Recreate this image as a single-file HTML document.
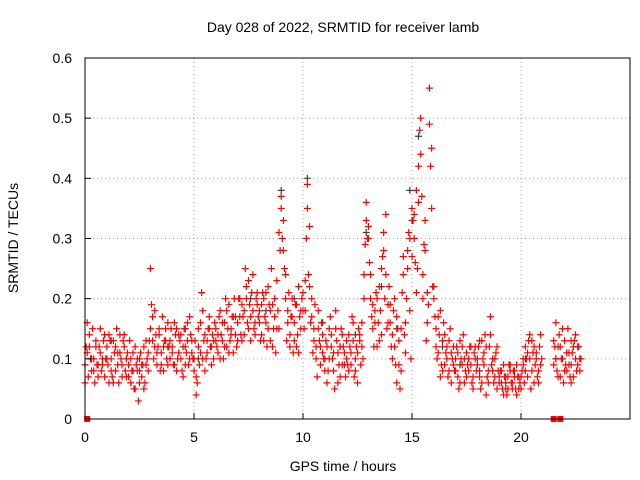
<!DOCTYPE html>
<html><head><meta charset="utf-8"><style>
body{margin:0;background:#fff}
svg{display:block;font-family:"Liberation Sans",sans-serif}
</style></head><body>
<svg id="chart" width="640" height="480">
<text x="343" y="32" font-size="14" text-anchor="middle">Day 028 of 2022, SRMTID for receiver lamb</text>
<text x="343" y="471" font-size="14" text-anchor="middle">GPS time / hours</text>
<text x="0" y="0" font-size="14" text-anchor="middle" transform="translate(18,238) rotate(-90)">SRMTID / TECUs</text>
<g id="grid"></g>
<g id="marks"></g>
<rect x="85" y="58" width="545" height="361" fill="none" stroke="#000"/>
<g id="ticks"></g>
</svg>
<script>
const xTicks=[0,5,10,15,20];
const yTicks=[0,0.1,0.2,0.3,0.4,0.5,0.6];
const yTickLabels=["0","0.1","0.2","0.3","0.4","0.5","0.6"];
const hours1=[0,0.1,0.2,0.3,0.4,0.5,0.6,0.7,0.8,0.9,1,1.1,1.2,1.3,1.4,1.5,1.6,1.7,1.8,1.9,2,2.1,2.2,2.3,2.4,2.5,2.6,2.7,2.8,2.9,3,3.1,3.2,3.3,3.4,3.5,3.6,3.7,3.8,3.9,4,4.1,4.2,4.3,4.4,4.5,4.6,4.7,4.8,4.9,5,5.1,5.2,5.3,5.4,5.5,5.6,5.7,5.8,5.9,6,6.1,6.2,6.3,6.4,6.5,6.6,6.7,6.8,6.9,7,7.1,7.2,7.3,7.4,7.5,7.6,7.7,7.8,7.9,8,8.1,8.2,8.3,8.4,8.5,8.6,8.7,8.8,8.9,9,9.1,9.2,9.3,9.4,9.5,9.6,9.7,9.8,9.9,10,10.1,10.2,10.3,10.4,10.5,10.6,10.7,10.8,10.9,11,11.1,11.2,11.3,11.4,11.5,11.6,11.7,11.8,11.9,12,12.1,12.2,12.3,12.4,12.5,12.6,12.7,12.8,12.9,13,13.1,13.2,13.3,13.4,13.5,13.6,13.7,13.8,13.9,14,14.1,14.2,14.3,14.4,14.5,14.6,14.7,14.8,14.9,15,15.1,15.2,15.3,15.4,15.5,15.6,15.7,15.8,15.9,16,16.1,16.2,16.3,16.4,16.5,16.6,16.7,16.8,16.9,17,17.1,17.2,17.3,17.4,17.5,17.6,17.7,17.8,17.9,18,18.1,18.2,18.3,18.4,18.5,18.6,18.7,18.8,18.9,19,19.1,19.2,19.3,19.4,19.5,19.6,19.7,19.8,19.9,20,20.1,20.2,20.3,20.4,20.5,20.6,20.7,20.8,20.9,21.5,21.6,21.7,21.8,21.9,22,22.1,22.2,22.3,22.4,22.5,22.6,22.7];
const srm1=[0.09,0.16,0.12,0.08,0.1,0.13,0.07,0.11,0.09,0.14,
0.12,0.06,0.1,0.13,0.08,0.11,0.14,0.09,0.12,0.07,
0.09,0.06,0.11,0.05,0.08,0.1,0.07,0.12,0.09,0.11,
0.25,0.17,0.12,0.09,0.15,0.11,0.08,0.13,0.16,0.1,
0.12,0.09,0.15,0.11,0.14,0.07,0.12,0.16,0.1,0.13,
0.08,0.04,0.12,0.16,0.1,0.14,0.11,0.17,0.09,0.13,
0.15,0.11,0.18,0.13,0.16,0.12,0.19,0.14,0.11,0.17,
0.16,0.2,0.13,0.18,0.22,0.15,0.17,0.24,0.14,0.19,
0.18,0.14,0.2,0.16,0.22,0.13,0.19,0.17,0.23,0.15,
0.37,0.33,0.24,0.18,0.14,0.2,0.16,0.12,0.22,0.15,
0.21,0.18,0.39,0.32,0.2,0.15,0.12,0.18,0.09,0.14,
0.1,0.06,0.15,0.12,0.08,0.18,0.11,0.07,0.14,0.09,
0.13,0.08,0.11,0.16,0.1,0.06,0.14,0.12,0.2,0.36,
0.32,0.2,0.15,0.18,0.12,0.22,0.14,0.28,0.34,0.19,
0.16,0.1,0.2,0.06,0.13,0.08,0.24,0.11,0.28,0.18,
0.35,0.3,0.38,0.42,0.5,0.2,0.28,0.16,0.55,0.45,
0.22,0.15,0.11,0.18,0.08,0.14,0.1,0.13,0.06,0.12,
0.1,0.07,0.13,0.09,0.06,0.11,0.08,0.12,0.05,0.1,
0.09,0.13,0.06,0.11,0.04,0.08,0.17,0.1,0.07,0.12,
0.06,0.08,0.04,0.07,0.05,0.09,0.06,0.08,0.04,0.07,
0.05,0.09,0.12,0.07,0.1,0.13,0.06,0.11,0.08,0.14,
0.09,0.16,0.12,0.07,0.1,0.13,0.08,0.11,0.06,0.12,0.14,0.09,0.1];
const srm3=[0.06,0.11,0.14,0.1,0.08,0.12,0.09,0.15,0.1,0.07,
0.1,0.14,0.08,0.06,0.12,0.09,0.11,0.07,0.14,0.1,
0.07,0.1,0.08,0.12,0.1,0.06,0.09,0.05,0.13,0.08,
0.15,0.13,0.18,0.11,0.14,0.09,0.12,0.15,0.09,0.13,
0.11,0.16,0.08,0.14,0.1,0.12,0.09,0.13,0.17,0.11,
0.1,0.07,0.15,0.11,0.18,0.08,0.13,0.15,0.12,0.1,
0.13,0.14,0.1,0.16,0.12,0.18,0.11,0.15,0.17,0.14,
0.13,0.17,0.19,0.14,0.2,0.23,0.13,0.18,0.16,0.21,
0.16,0.19,0.13,0.21,0.15,0.18,0.12,0.2,0.15,0.31,
0.35,0.28,0.2,0.16,0.12,0.17,0.13,0.19,0.11,0.18,
0.18,0.23,0.35,0.22,0.17,0.13,0.1,0.15,0.12,0.11,
0.08,0.12,0.1,0.14,0.11,0.15,0.06,0.12,0.09,0.11,
0.1,0.14,0.09,0.13,0.08,0.11,0.13,0.16,0.24,0.33,
0.3,0.24,0.19,0.16,0.2,0.13,0.25,0.31,0.24,0.16,
0.19,0.14,0.12,0.17,0.09,0.15,0.27,0.16,0.25,0.3,
0.27,0.34,0.21,0.36,0.44,0.24,0.33,0.21,0.49,0.35,
0.2,0.12,0.17,0.07,0.13,0.09,0.12,0.08,0.11,0.09,
0.08,0.11,0.06,0.12,0.1,0.07,0.1,0.09,0.07,0.12,
0.1,0.07,0.13,0.09,0.12,0.06,0.14,0.08,0.1,0.05,
0.07,0.06,0.09,0.05,0.07,0.08,0.05,0.07,0.09,0.05,
0.07,0.1,0.08,0.11,0.14,0.08,0.12,0.1,0.06,0.09,
0.13,0.1,0.07,0.12,0.15,0.08,0.11,0.09,0.13,0.07,0.1,0.12,0.08];
const hours2=[0.05,0.15,0.25,0.35,0.45,0.55,0.65,0.75,0.85,0.95,1.05,1.15,1.25,1.35,1.45,1.55,1.65,1.75,1.85,1.95,2.05,2.15,2.25,2.35,2.45,2.55,2.65,2.75,2.85,2.95,3.05,3.15,3.25,3.35,3.45,3.55,3.65,3.75,3.85,3.95,4.05,4.15,4.25,4.35,4.45,4.55,4.65,4.75,4.85,4.95,5.05,5.15,5.25,5.35,5.45,5.55,5.65,5.75,5.85,5.95,6.05,6.15,6.25,6.35,6.45,6.55,6.65,6.75,6.85,6.95,7.05,7.15,7.25,7.35,7.45,7.55,7.65,7.75,7.85,7.95,8.05,8.15,8.25,8.35,8.45,8.55,8.65,8.75,8.85,8.95,9.05,9.15,9.25,9.35,9.45,9.55,9.65,9.75,9.85,9.95,10.05,10.15,10.25,10.35,10.45,10.55,10.65,10.75,10.85,10.95,11.05,11.15,11.25,11.35,11.45,11.55,11.65,11.75,11.85,11.95,12.05,12.15,12.25,12.35,12.45,12.55,12.65,12.75,12.85,12.95,13.05,13.15,13.25,13.35,13.45,13.55,13.65,13.75,13.85,13.95,14.05,14.15,14.25,14.35,14.45,14.55,14.65,14.75,14.85,14.95,15.05,15.15,15.25,15.35,15.45,15.55,15.65,15.75,15.85,15.95,16.05,16.15,16.25,16.35,16.45,16.55,16.65,16.75,16.85,16.95,17.05,17.15,17.25,17.35,17.45,17.55,17.65,17.75,17.85,17.95,18.05,18.15,18.25,18.35,18.45,18.55,18.65,18.75,18.85,18.95,19.05,19.15,19.25,19.35,19.45,19.55,19.65,19.75,19.85,19.95,20.05,20.15,20.25,20.35,20.45,20.55,20.65,20.75,20.85,20.95,21.55,21.65,21.75,21.85,21.95,22.05,22.15,22.25,22.35,22.45,22.55,22.65,22.75];
const srm2=[0.12,0.07,0.1,0.15,0.06,0.09,0.12,0.08,0.13,0.1,
0.09,0.13,0.07,0.11,0.15,0.06,0.1,0.13,0.08,0.11,
0.13,0.08,0.05,0.09,0.03,0.11,0.09,0.06,0.1,0.13,
0.19,0.1,0.14,0.12,0.08,0.17,0.13,0.1,0.12,0.15,
0.09,0.14,0.1,0.13,0.08,0.15,0.11,0.09,0.14,0.1,
0.13,0.06,0.09,0.21,0.13,0.1,0.15,0.12,0.14,0.16,
0.12,0.17,0.14,0.1,0.2,0.15,0.13,0.17,0.2,0.12,
0.2,0.14,0.17,0.25,0.16,0.19,0.21,0.15,0.2,0.17,
0.13,0.21,0.17,0.12,0.19,0.25,0.15,0.11,0.18,0.28,
0.3,0.25,0.13,0.21,0.17,0.11,0.19,0.14,0.17,0.2,
0.15,0.3,0.24,0.16,0.11,0.19,0.07,0.13,0.16,0.1,
0.13,0.08,0.17,0.1,0.05,0.13,0.09,0.15,0.12,0.07,
0.09,0.12,0.17,0.07,0.12,0.15,0.09,0.1,0.29,0.3,
0.26,0.17,0.12,0.21,0.16,0.18,0.27,0.2,0.15,0.22,
0.12,0.18,0.09,0.15,0.05,0.21,0.14,0.2,0.31,0.1,
0.33,0.26,0.25,0.48,0.37,0.29,0.13,0.19,0.42,0.22,
0.17,0.1,0.14,0.09,0.16,0.11,0.07,0.15,0.1,0.08,
0.12,0.05,0.1,0.14,0.08,0.09,0.12,0.06,0.11,0.08,
0.12,0.05,0.1,0.14,0.07,0.12,0.09,0.06,0.11,0.08,
0.08,0.05,0.07,0.04,0.09,0.06,0.08,0.05,0.07,0.06,
0.08,0.06,0.1,0.13,0.05,0.11,0.09,0.07,0.12,0.1,
0.12,0.08,0.14,0.1,0.06,0.09,0.15,0.07,0.11,0.13,0.08,0.12,0.1];
const hoursDark=[0.3,1.2,2.5,3.8,4.6,5.2,6.4,7.6,8.3,9.0,9.6,10.2,10.9,11.7,12.4,12.9,13.6,14.3,14.9,15.0,15.3,15.8,16.4,17.2,18.1,19.3,20.2,21.6,22.3];
const srmDark=[0.1,0.13,0.08,0.12,0.15,0.1,0.16,0.2,0.18,0.38,0.2,0.4,0.16,0.12,0.14,0.31,0.22,0.15,0.38,0.33,0.47,0.55,0.12,0.09,0.08,0.06,0.1,0.1,0.09];
const hoursZero=[0.1,21.5,21.8];
const srmZero=[0,0,0];

const X0=85,X1=630,Y0=419,Y1=58,XMAX=25,YMAX=0.6;
const sx=v=>X0+(X1-X0)*v/XMAX;
const sy=v=>Y0-(Y0-Y1)*v/YMAX;
const NS="http://www.w3.org/2000/svg";
const grid=document.getElementById('grid'),ticks=document.getElementById('ticks'),marks=document.getElementById('marks');
function mk(tag,attrs,parent){const e=document.createElementNS(NS,tag);for(const k in attrs)e.setAttribute(k,attrs[k]);parent.appendChild(e);return e;}
xTicks.forEach(t=>{
  const x=sx(t);
  if(t>0){const g=mk('line',{x1:x,x2:x,y1:Y1,y2:Y0,stroke:'#a0a0a0','stroke-dasharray':'1,3'},grid);
  
  }
  const l=mk('line',{x1:x,x2:x,y1:Y0,y2:Y0-6,stroke:'#000'},ticks);
  
  
  const tx=mk('text',{x:x,y:442,'font-size':14,'text-anchor':'middle'},ticks);tx.textContent=String(t);
  
  
});
yTicks.forEach((t,i)=>{
  const y=sy(t);
  if(t>0&&t<YMAX){const g=mk('line',{x1:X0,x2:X1,y1:y,y2:y,stroke:'#a0a0a0','stroke-dasharray':'1,3'},grid);
  
  }
  const l=mk('line',{x1:X0,x2:X0+6,y1:y,y2:y,stroke:'#000'},ticks);
  
  
  const tx=mk('text',{x:72,y:y+5,'font-size':14,'text-anchor':'end'},ticks);tx.textContent=yTickLabels[i];
  
  
});
function plus(h,v,color,name){
  const x=sx(h),y=sy(v);
  const p=mk('path',{d:`M${x-3.5},${y}H${x+3.5}M${x},${y-3.5}V${y+3.5}`,stroke:color,'stroke-width':1.2,fill:'none'},marks);
  
  
}
hoursDark.forEach((h,i)=>plus(h,srmDark[i],'#404040','dark-point'));
hours1.forEach((h,i)=>plus(h,srm1[i],'#ff0000','red-point'));
hours1.forEach((h,i)=>plus(h,srm3[i],'#ff0000','red-point'));
hours2.forEach((h,i)=>plus(h,srm2[i],'#ff0000','red-point'));
hoursZero.forEach((h,i)=>{
  const r=mk('rect',{x:sx(h)-3,y:sy(srmZero[i])-3,width:6,height:6,fill:'#ff0000'},marks);
  
  
});
</script>
</body></html>
